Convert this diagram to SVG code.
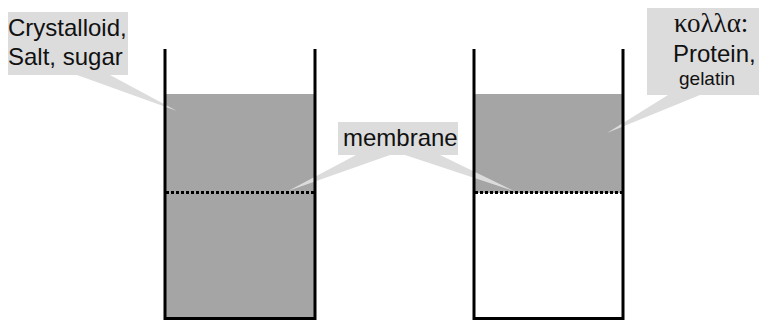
<svg xmlns="http://www.w3.org/2000/svg" width="760" height="321" viewBox="0 0 760 321">
  <style>
    .fluid { fill: #a5a5a5; }
    .callout { fill: #dcdcdc; }
    .wall { fill: none; stroke: #000; stroke-width: 3; stroke-linejoin: miter; stroke-linecap: butt; }
    .membrane { stroke: #000; stroke-width: 3; stroke-dasharray: 3 2; }
    .label { font-family: "Liberation Sans", Arial, sans-serif; font-size: 24px; fill: #111; }
    .small { font-size: 19px; }
    .greek { font-family: "Liberation Serif", "Times New Roman", serif; font-size: 27px; fill: #111; }
  </style>

  <!-- left beaker: solution on both sides of the membrane -->
  <g id="beaker-left">
    <rect class="fluid" x="165" y="94" width="150" height="225"/>
  </g>

  <!-- right beaker: solution above the membrane only -->
  <g id="beaker-right">
    <rect class="fluid" x="474" y="94" width="149" height="99"/>
  </g>

  <!-- callout pointers -->
  <g id="connectors">
    <polygon class="callout" points="77,75 110,75 177,111"/>
    <polygon class="callout" points="356,155 390,155 288,191"/>
    <polygon class="callout" points="405,155 440,155 514,191"/>
    <polygon class="callout" points="668,95 700,95 607,133"/>
  </g>

  <g id="membranes">
    <line class="membrane" x1="166" y1="192.5" x2="314" y2="192.5"/>
    <line class="membrane" x1="475" y1="192.5" x2="622" y2="192.5"/>
  </g>

  <g id="walls">
    <polyline class="wall" points="165,49 165,318.5 315,318.5 315,49"/>
    <polyline class="wall" points="474,49 474,318.5 623,318.5 623,49"/>
  </g>

  <g id="label-crystalloid">
    <rect class="callout" x="8" y="12" width="120" height="63"/>
    <text class="label" x="8" y="36">Crystalloid,</text>
    <text class="label" x="8" y="65">Salt, sugar</text>
  </g>

  <g id="label-membrane">
    <rect class="callout" x="338" y="122" width="120" height="33"/>
    <text class="label" x="343" y="146">membrane</text>
  </g>

  <g id="label-colloid">
    <rect class="callout" x="647" y="8" width="112" height="87"/>
    <text class="greek" x="674" y="32">κολλα:</text>
    <text class="label" x="673" y="62">Protein,</text>
    <text class="label small" x="679" y="85">gelatin</text>
  </g>
</svg>
